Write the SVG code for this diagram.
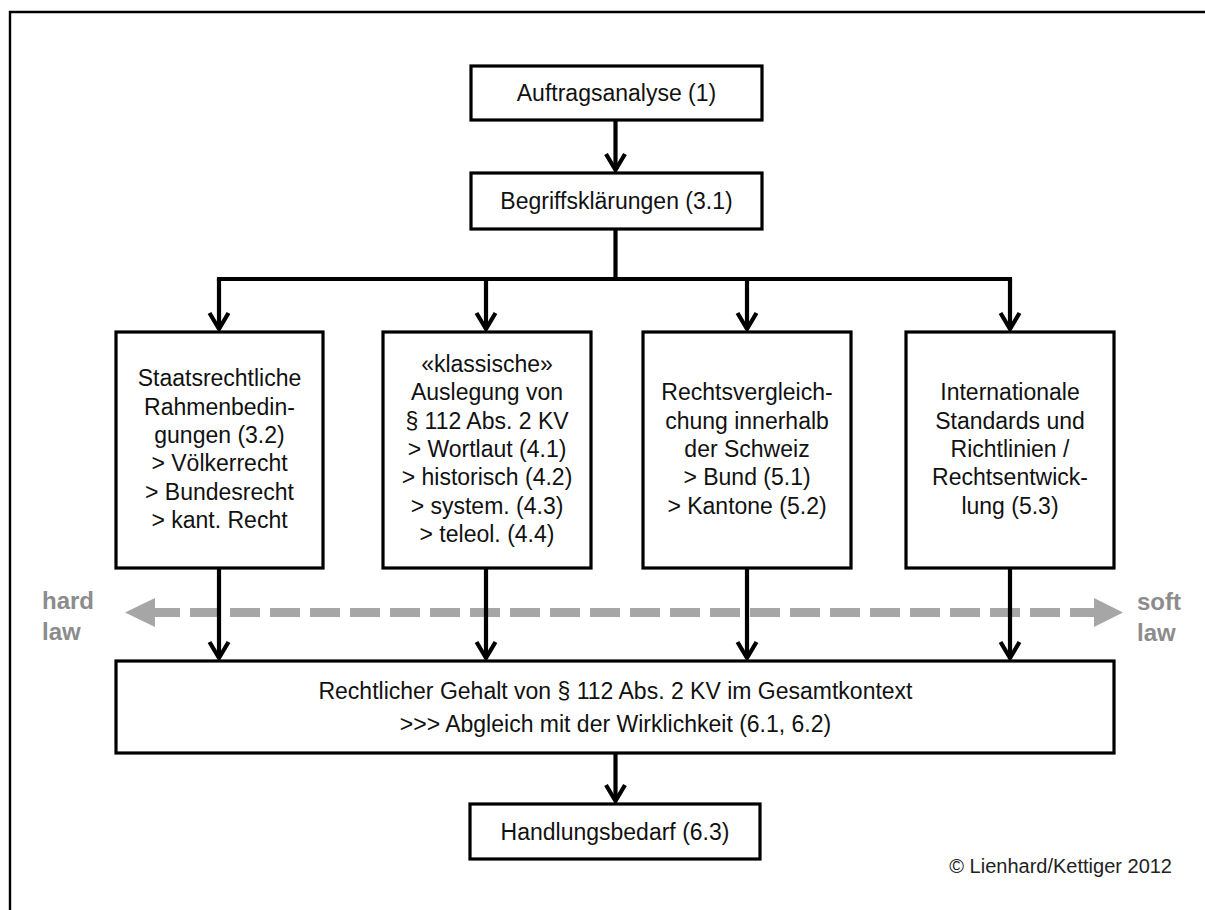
<svg xmlns="http://www.w3.org/2000/svg" width="1205" height="910" viewBox="0 0 1205 910">
<defs>
<style>
.box{fill:#fff;stroke:#000;stroke-width:3.2}
.t{font-family:"Liberation Sans",Arial,sans-serif;font-size:23px;fill:#111;text-anchor:middle}
.ln{fill:none;stroke:#000;stroke-width:4.2}
.gray{font-family:"Liberation Sans",Arial,sans-serif;font-size:24px;font-weight:bold;fill:#8c8c8c}
</style>
<marker id="ah" markerUnits="userSpaceOnUse" orient="auto" refX="0" refY="0" markerWidth="30" markerHeight="30" viewBox="-20 -15 30 30" overflow="visible">
<path d="M-16,-9.5 L0,0 L-16,9.5" fill="none" stroke="#000" stroke-width="4.2" stroke-linejoin="miter"/>
</marker>
</defs>
<rect width="1205" height="910" fill="#fff"/>
<path d="M10,910 V12 H1205" fill="none" stroke="#000" stroke-width="2.4"/>

<g id="connectors">
<line x1="150" y1="612.5" x2="1100" y2="612.5" stroke="#a6a6a6" stroke-width="9" stroke-dasharray="30 10"/>
<polygon points="125,612.5 155,598 155,627" fill="#a6a6a6"/>
<polygon points="1123,612.5 1094,598 1094,627" fill="#a6a6a6"/>
<line class="ln" x1="615.5" y1="120" x2="615.5" y2="170" marker-end="url(#ah)"/>
<line class="ln" x1="615.5" y1="229" x2="615.5" y2="279"/>
<line class="ln" x1="219" y1="279" x2="1010" y2="279" stroke-linecap="square"/>
<line class="ln" x1="219" y1="279" x2="219" y2="329" marker-end="url(#ah)"/>
<line class="ln" x1="486" y1="279" x2="486" y2="329" marker-end="url(#ah)"/>
<line class="ln" x1="747" y1="279" x2="747" y2="329" marker-end="url(#ah)"/>
<line class="ln" x1="1010" y1="279" x2="1010" y2="329" marker-end="url(#ah)"/>
<line class="ln" x1="219" y1="568" x2="219" y2="658" marker-end="url(#ah)"/>
<line class="ln" x1="486" y1="568" x2="486" y2="658" marker-end="url(#ah)"/>
<line class="ln" x1="747" y1="568" x2="747" y2="658" marker-end="url(#ah)"/>
<line class="ln" x1="1010" y1="568" x2="1010" y2="658" marker-end="url(#ah)"/>
<line class="ln" x1="615.5" y1="753" x2="615.5" y2="801" marker-end="url(#ah)"/>
</g>

<g id="n1">
<rect class="box" x="471" y="66" width="291" height="54"/>
<text class="t" x="616.5" y="101">Auftragsanalyse (1)</text>
</g>
<g id="n2">
<rect class="box" x="471" y="173" width="291" height="56"/>
<text class="t" x="616.5" y="209">Begriffsklärungen (3.1)</text>
</g>
<g id="nA">
<rect class="box" x="116" y="332" width="207" height="236"/>
<text class="t" x="219.5" y="386.3">Staatsrechtliche</text>
<text class="t" x="219.5" y="414.6">Rahmenbedin-</text>
<text class="t" x="219.5" y="442.9">gungen (3.2)</text>
<text class="t" x="219.5" y="471.2">&gt; Völkerrecht</text>
<text class="t" x="219.5" y="499.5">&gt; Bundesrecht</text>
<text class="t" x="219.5" y="527.8">&gt; kant. Recht</text>
</g>
<g id="nB">
<rect class="box" x="383" y="332" width="208" height="236"/>
<text class="t" x="487" y="372">«klassische»</text>
<text class="t" x="487" y="400.3">Auslegung von</text>
<text class="t" x="487" y="428.6">§ 112 Abs. 2 KV</text>
<text class="t" x="487" y="456.9">&gt; Wortlaut (4.1)</text>
<text class="t" x="487" y="485.2">&gt; historisch (4.2)</text>
<text class="t" x="487" y="513.5">&gt; system. (4.3)</text>
<text class="t" x="487" y="541.8">&gt; teleol. (4.4)</text>
</g>
<g id="nC">
<rect class="box" x="643" y="332" width="208" height="236"/>
<text class="t" x="747" y="400.4">Rechtsvergleich-</text>
<text class="t" x="747" y="428.7">chung innerhalb</text>
<text class="t" x="747" y="457">der Schweiz</text>
<text class="t" x="747" y="485.3">&gt; Bund (5.1)</text>
<text class="t" x="747" y="513.6">&gt; Kantone (5.2)</text>
</g>
<g id="nD">
<rect class="box" x="906" y="332" width="208" height="236"/>
<text class="t" x="1010" y="400.4">Internationale</text>
<text class="t" x="1010" y="428.7">Standards und</text>
<text class="t" x="1010" y="457">Richtlinien /</text>
<text class="t" x="1010" y="485.3">Rechtsentwick-</text>
<text class="t" x="1010" y="513.6">lung (5.3)</text>
</g>
<g id="nE">
<rect class="box" x="116" y="661" width="998" height="92"/>
<text class="t" x="615.5" y="699">Rechtlicher Gehalt von § 112 Abs. 2 KV im Gesamtkontext</text>
<text class="t" x="615.5" y="732">&gt;&gt;&gt; Abgleich mit der Wirklichkeit (6.1, 6.2)</text>
</g>
<g id="nF">
<rect class="box" x="470" y="804" width="290" height="55"/>
<text class="t" x="615" y="839.5">Handlungsbedarf (6.3)</text>
</g>
<g id="labels">
<text class="gray" x="42" y="609">hard</text>
<text class="gray" x="42" y="640">law</text>
<text class="gray" x="1137" y="610">soft</text>
<text class="gray" x="1137" y="641">law</text>
<text x="1172" y="873" font-family="Liberation Sans, Arial, sans-serif" font-size="20" fill="#222" text-anchor="end">© Lienhard/Kettiger 2012</text>
</g>
</svg>
